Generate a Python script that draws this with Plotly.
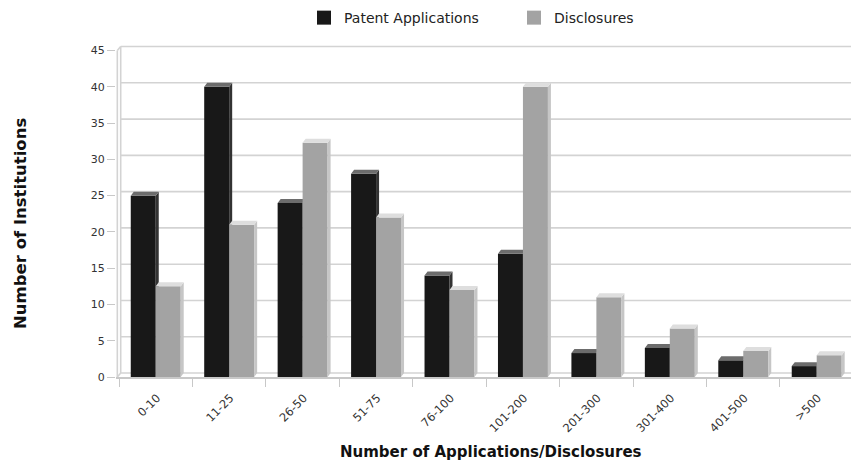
import plotly.graph_objects as go

# Number of institutions per bucket of applications / disclosures
categories = ["0-10", "11-25", "26-50", "51-75", "76-100",
              "101-200", "201-300", "301-400", "401-500", ">500"]
patent_applications = [25, 40, 24, 28, 14, 17, 3.3, 4, 2.3, 1.5]
disclosures = [12.5, 21, 32.3, 22, 12, 40, 11, 6.7, 3.6, 3]
y_ticks = [0, 5, 10, 15, 20, 25, 30, 35, 40, 45]

# geometry of the pseudo-3D look (data units)
BAR_W = 0.34
DX = 0.041   # depth shift along x
DY = 0.55    # depth shift along y
X_RANGE = [-0.541, 9.467]
Y_RANGE = [0, 45.9]

BLACK = "#181818"
BLACK_TOP = "#6c6c6c"
BLACK_SIDE = "#333333"
GREY = "#a3a3a3"
GREY_TOP = "#dedede"
GREY_SIDE = "#c6c6c6"
FONT = "DejaVu Sans"


def faces(values, offset):
    """Return (top, side) polygon paths for bars starting at x+offset."""
    tx, ty, sx, sy = [], [], [], []
    for i, v in enumerate(values):
        x0 = i + offset
        x1 = x0 + BAR_W
        tx += [x0, x0 + DX, x1 + DX, x1, x0, None]
        ty += [v, v + DY, v + DY, v, v, None]
        sx += [x1, x1, x1 + DX, x1 + DX, x1, None]
        sy += [0, v, v + DY, DY, 0, None]
    return (tx, ty), (sx, sy)


def face_trace(xy, color, yaxis):
    return go.Scatter(x=xy[0], y=xy[1], mode="lines", fill="toself",
                      fillcolor=color, line=dict(width=0, color=color),
                      hoverinfo="skip", showlegend=False, yaxis=yaxis)


def legend_key(name, color):
    return go.Scatter(x=[None], y=[None], mode="markers", name=name,
                      marker=dict(symbol="square", size=14, color=color),
                      showlegend=True)


xs = list(range(len(categories)))
fig = go.Figure()

# Patent applications: front faces plus top/side faces on the base subplot
fig.add_trace(go.Bar(x=xs, y=patent_applications, width=BAR_W, offset=-BAR_W,
                     marker=dict(color=BLACK, line=dict(width=0)),
                     name="Patent Applications", yaxis="y", showlegend=False))
top, side = faces(patent_applications, -BAR_W)
fig.add_trace(face_trace(side, BLACK_SIDE, "y"))
fig.add_trace(face_trace(top, BLACK_TOP, "y"))

# Disclosures drawn on an overlaid subplot so they sit in front
fig.add_trace(go.Bar(x=xs, y=disclosures, width=BAR_W, offset=0,
                     marker=dict(color=GREY, line=dict(width=0)),
                     name="Disclosures", yaxis="y2", showlegend=False))
top, side = faces(disclosures, 0)
fig.add_trace(face_trace(side, GREY_SIDE, "y2"))
fig.add_trace(face_trace(top, GREY_TOP, "y2"))

# legend keys
fig.add_trace(legend_key("Patent Applications", BLACK))
fig.add_trace(legend_key("Disclosures", GREY))

shapes = []
GRID = "#d3d3d3"
# back-wall gridlines
for v in y_ticks:
    shapes.append(dict(type="line", xref="x", yref="y",
                       x0=-0.477, x1=X_RANGE[1], y0=v + DY, y1=v + DY,
                       line=dict(color=GRID, width=1.6), layer="below"))
# left wall: front and back edges with joining bevels
shapes += [
    dict(type="line", xref="x", yref="y", x0=-0.523, x1=-0.523, y0=0, y1=45,
         line=dict(color=GRID, width=1.6), layer="below"),
    dict(type="line", xref="x", yref="y", x0=-0.477, x1=-0.477, y0=DY, y1=45 + DY,
         line=dict(color=GRID, width=1.6), layer="below"),
    dict(type="line", xref="x", yref="y", x0=-0.523, x1=-0.477, y0=45, y1=45 + DY,
         line=dict(color=GRID, width=1.6), layer="below"),
    dict(type="line", xref="x", yref="y", x0=-0.523, x1=-0.477, y0=0, y1=DY,
         line=dict(color=GRID, width=1.6), layer="below"),
]

fig.update_layout(
    width=851, height=466,
    margin=dict(l=116, r=0, t=44, b=89),
    paper_bgcolor="white", plot_bgcolor="white",
    showlegend=True,
    legend=dict(orientation="h", x=(325 - 116 - 21) / 735, xanchor="left",
                xref="paper", y=1.126, yanchor="top", entrywidth=165,
                font=dict(family=FONT, size=14, color="#222"),
                traceorder="normal"),
    xaxis=dict(range=X_RANGE, tickmode="array",
               tickvals=[i - 0.5 for i in xs], ticktext=categories,
               ticklabelshift=38, tickangle=-45,
               ticks="outside", ticklen=8, tickcolor="#c8c8c8", tickwidth=1.2,
               showline=True, linecolor="#c8c8c8", linewidth=1.6,
               showgrid=False, zeroline=False, fixedrange=True,
               tickfont=dict(family=FONT, size=11.5, color="#333")),
    yaxis=dict(range=Y_RANGE, tickmode="array", tickvals=y_ticks,
               ticks="outside", ticklen=8, tickcolor="#c8c8c8", tickwidth=1.2,
               showline=False, showgrid=False, zeroline=False,
               tickfont=dict(family=FONT, size=11, color="#333")),
    yaxis2=dict(range=Y_RANGE, overlaying="y", visible=False,
                showgrid=False, zeroline=False),
    shapes=shapes,
    annotations=[
        dict(text="<b>Number of Institutions</b>", textangle=-90,
             xref="paper", yref="paper", x=(20 - 116) / 735, y=(377 - 223) / 333,
             xanchor="center", yanchor="middle", showarrow=False,
             font=dict(family=FONT, size=16.5, color="#111")),
        dict(text="<b>Number of Applications/Disclosures</b>",
             xref="paper", yref="paper", x=(491 - 116) / 735, y=-(452 - 377) / 333,
             xanchor="center", yanchor="middle", showarrow=False,
             font=dict(family=FONT, size=15, color="#111")),
    ],
    bargap=0.32,
)

fig.write_html("out.html")
